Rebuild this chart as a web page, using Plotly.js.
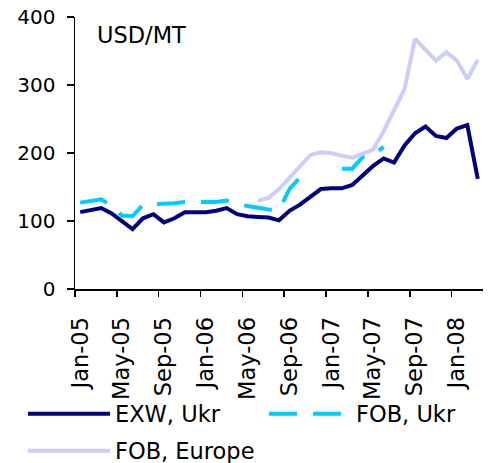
<!DOCTYPE html>
<html>
<head>
<meta charset="utf-8">
<script src="https://cdn.plot.ly/plotly-3.0.1.min.js"></script>
<style>
  html, body { margin: 0; padding: 0; background: #fff; }
  #chart { width: 488px; height: 463px; }
</style>
</head>
<body>
<div id="chart"></div>
<script>
// Monthly categories, Jan-05 .. Mar-08
const months = [
  'Jan-05','Feb-05','Mar-05','Apr-05','May-05','Jun-05','Jul-05','Aug-05','Sep-05','Oct-05','Nov-05','Dec-05',
  'Jan-06','Feb-06','Mar-06','Apr-06','May-06','Jun-06','Jul-06','Aug-06','Sep-06','Oct-06','Nov-06','Dec-06',
  'Jan-07','Feb-07','Mar-07','Apr-07','May-07','Jun-07','Jul-07','Aug-07','Sep-07','Oct-07','Nov-07','Dec-07',
  'Jan-08','Feb-08','Mar-08'
];
const tickLabels = ['Jan-05','May-05','Sep-05','Jan-06','May-06','Sep-06','Jan-07','May-07','Sep-07','Jan-08'];

const exwUkr = [113,116,119,111,99,88,104,110,98,104,113,113,
                113,115,119,110,107,106,105,101,115,124,135,147,
                148,148,153,168,181,192,186,211,229,239,225,222,
                236,241,162];
const fobUkr = [127,130,132,122,108,107,124,125,125,126,128,128,
                127,128,130,125,122,119,117,116,147,164,171,null,
                null,177,177,194,197,209,null,null,null,null,null,null,
                null,null,null];
const fobEurope = [null,null,null,null,null,null,null,null,null,null,null,null,
                   null,null,null,null,null,130,134,147,163,180,197,201,
                   200,196,193,199,205,232,262,294,368,352,336,348,
                   336,309,337];

const seriesNames = ['EXW, Ukr','FOB, Ukr','FOB, Europe'];

const idx = months.map((m, i) => i);
const tickPos = tickLabels.map(l => months.indexOf(l));
const boundaryPos = tickPos.map(p => p - 0.5);

const font = 'DejaVu Sans, Verdana, sans-serif';

const traces = [
  { x: idx, y: exwUkr, name: seriesNames[0], type: 'scatter', mode: 'lines',
    line: { color: '#000080', width: 4 }, legend: 'legend', text: months },
  { x: idx, y: fobUkr, name: seriesNames[1], type: 'scatter', mode: 'lines',
    line: { color: '#00CCFF', width: 4, dash: '28px,16px' }, connectgaps: false, legend: 'legend2', text: months },
  { x: idx, y: fobEurope, name: seriesNames[2], type: 'scatter', mode: 'lines',
    line: { color: '#CCCCFF', width: 4 }, legend: 'legend3', text: months }
];

const legendBase = {
  orientation: 'h', xanchor: 'left', yanchor: 'middle',
  font: { family: font, size: 22.5, color: '#000' }, itemwidth: 82,
  bgcolor: 'rgba(0,0,0,0)', borderwidth: 0
};

const layout = {
  width: 488, height: 463,
  margin: { l: 75, r: 5, t: 17, b: 174, autoexpand: false },
  paper_bgcolor: '#fff', plot_bgcolor: '#fff',
  font: { family: font, size: 20, color: '#000' },
  showlegend: true,
  xaxis: {
    type: 'linear', range: [-0.5, 38.5], fixedrange: true,
    tickmode: 'array', tickvals: tickPos, ticktext: tickLabels,
    ticks: '', tickangle: -90, tickfont: { family: font, size: 22.5 },
    ticklabelstandoff: 17,
    showline: true, linecolor: '#000', linewidth: 2,
    showgrid: false, zeroline: false,
    minor: { tickmode: 'array', tickvals: boundaryPos, ticks: 'outside', ticklen: 6, tickwidth: 1.5, tickcolor: '#000', showgrid: false }
  },
  yaxis: {
    range: [0, 400], dtick: 100, tick0: 0, fixedrange: true,
    ticks: 'outside', ticklen: 7, tickwidth: 1.5, tickcolor: '#000',
    ticklabelstandoff: 7,
    showline: true, linecolor: '#000', linewidth: 1.5,
    showgrid: false, zeroline: false,
    tickfont: { family: font, size: 20 }
  },
  legend: Object.assign({}, legendBase, { x: -0.1275, y: -0.4596 }),
  legend2: Object.assign({}, legendBase, { x: 0.4632, y: -0.4596 }),
  legend3: Object.assign({}, legendBase, { x: -0.1275, y: -0.5956 }),
  annotations: [
    { text: 'USD/MT', xref: 'paper', yref: 'paper', x: 0.049, y: 0.934, xanchor: 'left', yanchor: 'middle',
      showarrow: false, font: { family: font, size: 22.5, color: '#000' } }
  ]
};

Plotly.newPlot('chart', traces, layout, { displayModeBar: false, staticPlot: true });
</script>
</body>
</html>
